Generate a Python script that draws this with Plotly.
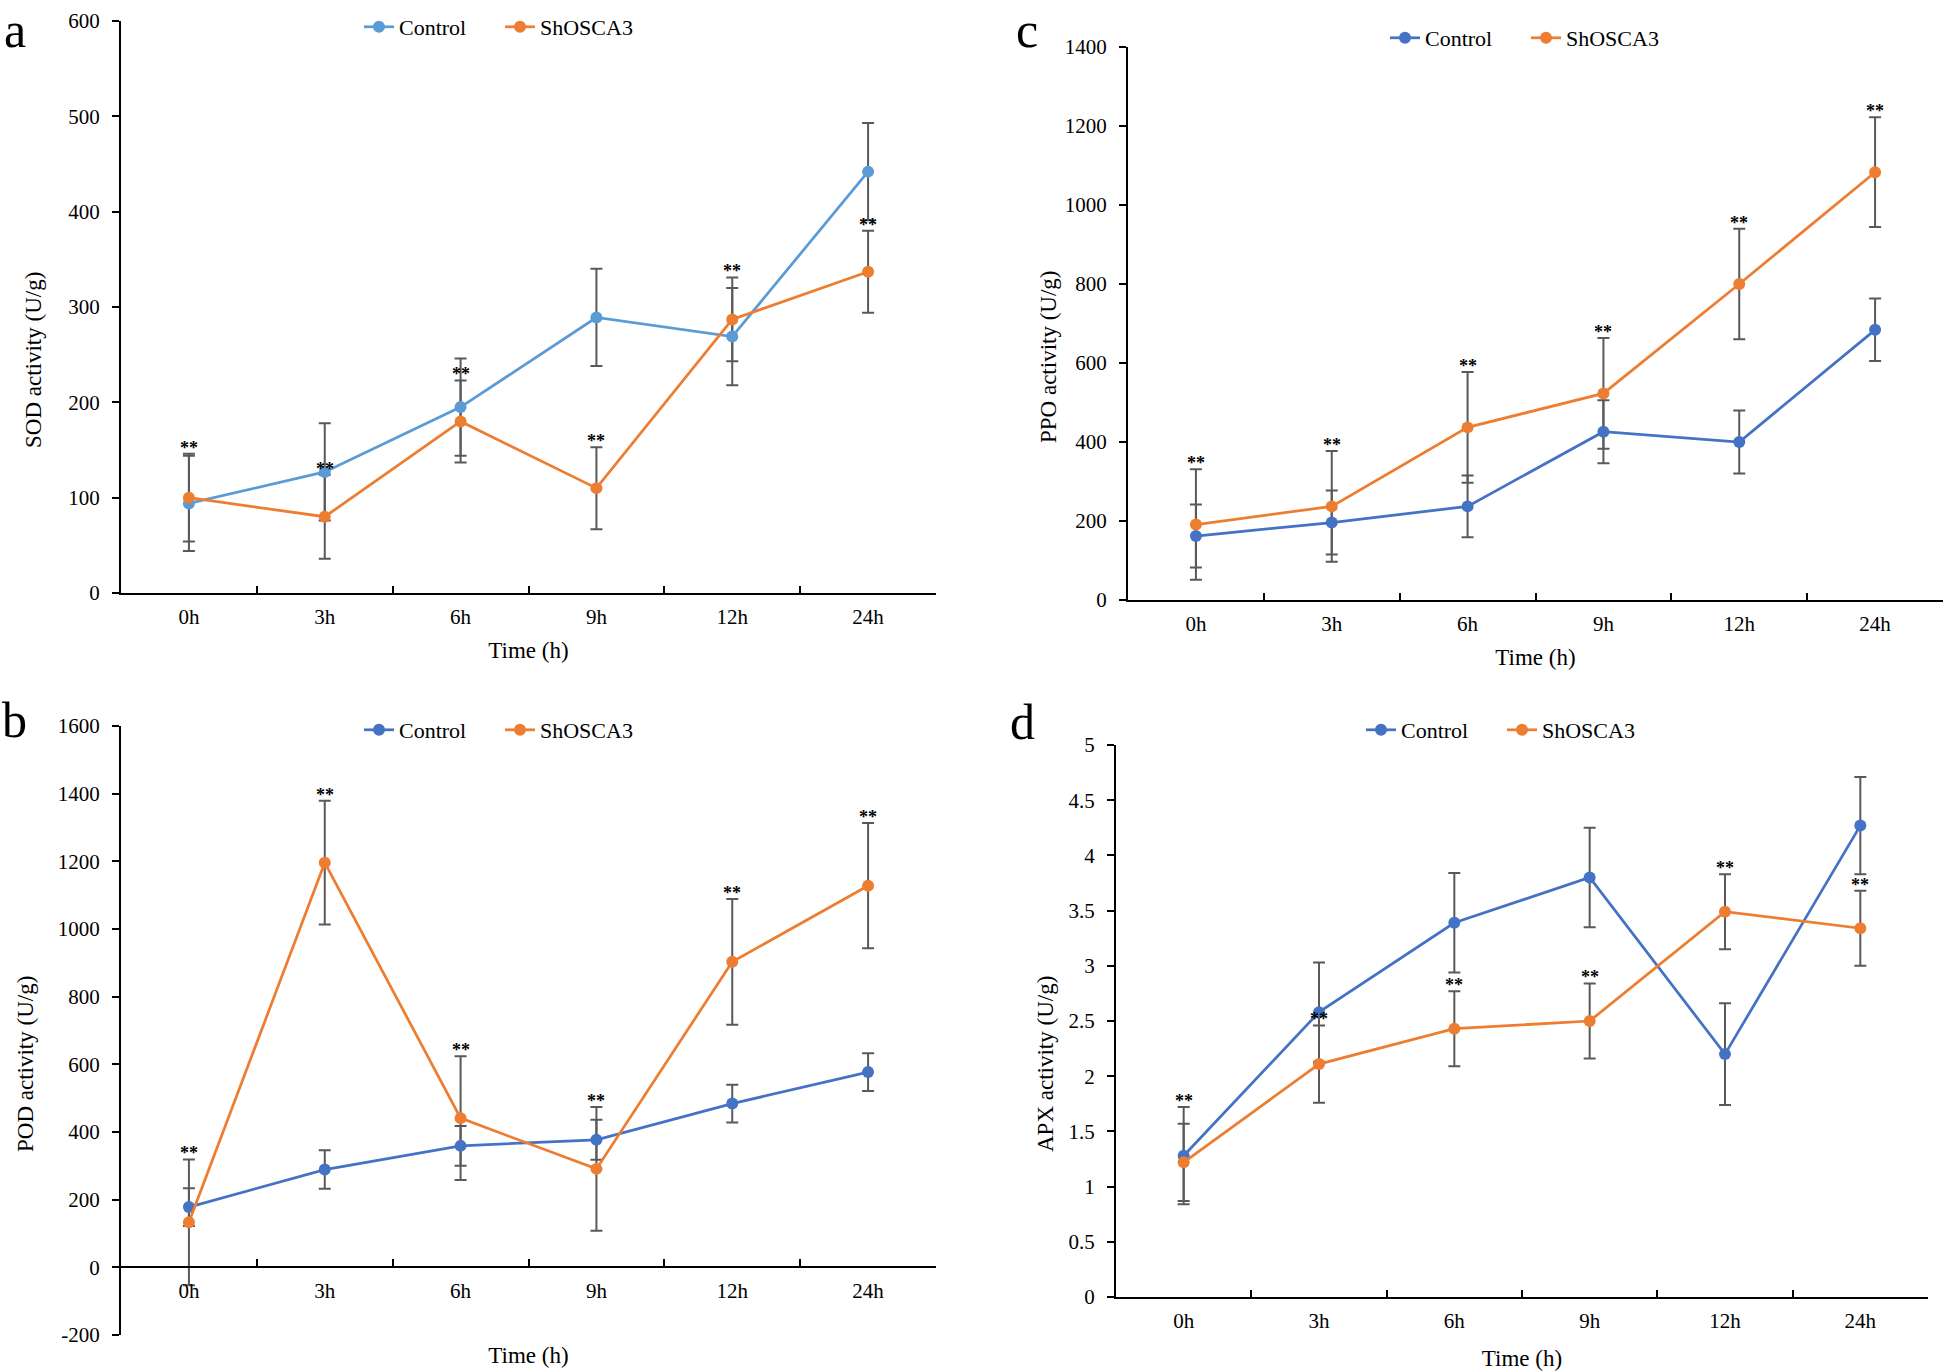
import plotly.graph_objects as go

# ---------------- data ----------------
times = ["0h", "3h", "6h", "9h", "12h", "24h"]

sod_control = [94, 127, 195, 289, 269, 442]
sod_control_err = [50, 51, 51, 51, 51, 51]
sod_sh = [100, 80, 180, 110, 287, 337]
sod_sh_err = [46, 44, 43, 43, 44, 43]

pod_control = [178, 289, 359, 377, 484, 577]
pod_control_err = [56, 57, 59, 59, 56, 56]
pod_sh = [133, 1196, 441, 291, 903, 1128]
pod_sh_err = [186, 183, 183, 183, 186, 185]

ppo_control = [162, 196, 237, 426, 400, 684]
ppo_control_err = [80, 81, 78, 80, 80, 79]
ppo_sh = [191, 237, 437, 523, 800, 1083]
ppo_sh_err = [140, 140, 140, 140, 140, 139]

apx_control = [1.28, 2.58, 3.39, 3.80, 2.20, 4.27]
apx_control_err = [0.44, 0.45, 0.45, 0.45, 0.46, 0.44]
apx_sh = [1.22, 2.11, 2.43, 2.50, 3.49, 3.34]
apx_sh_err = [0.35, 0.35, 0.34, 0.34, 0.34, 0.34]

# which series' error-bar top carries the "**" mark
sod_star_on = ["sh", "sh", "sh", "sh", "sh", "sh"]
pod_star_on = ["sh", "sh", "sh", "sh", "sh", "sh"]
ppo_star_on = ["sh", "sh", "sh", "sh", "sh", "sh"]
apx_star_on = ["control", "sh", "sh", "sh", "sh", "sh"]

pod_ticks = [-200, 0, 200, 400, 600, 800, 1000, 1200, 1400, 1600]
pod_ticktext = ["-200", "0", "200", "400", "600", "800", "1000", "1200", "1400", "1600"]

# ---------------- style ----------------
FONT = "Liberation Serif, Times New Roman, serif"
ORANGE = "#ED7D31"
BLUE = "#4472C4"
LIGHTBLUE = "#5B9BD5"
ERRC = "#595959"
W, H = 1951, 1372


def px_x(p):
    """window pixel x -> paper fraction"""
    return p / W


def px_y(p):
    """window pixel y -> paper fraction"""
    return 1 - p / H


panels = [
    dict(suffix="", legend="legend", ctrl=sod_control, ctrl_err=sod_control_err,
         sh=sod_sh, sh_err=sod_sh_err, star_on=sod_star_on,
         yrange=[0, 600], dtick=100, title="SOD activity (U/g)",
         xdom=(121, 936), ydom=(21, 593), ccolor=LIGHTBLUE, letter="a",
         letter_pos=(2, 0), legend_pos=(359, 27), ytitle_pos=(34, 360), xstandoff=14),
    dict(suffix="2", legend="legend3", ctrl=pod_control, ctrl_err=pod_control_err,
         sh=pod_sh, sh_err=pod_sh_err, star_on=pod_star_on,
         yrange=[-200, 1600], dtick=200, title="POD activity (U/g)",
         xdom=(121, 936), ydom=(726, 1335), ccolor=BLUE, letter="b",
         letter_pos=(0, 690), legend_pos=(359, 730), ytitle_pos=(25, 1064), xstandoff=44),
    dict(suffix="3", legend="legend2", ctrl=ppo_control, ctrl_err=ppo_control_err,
         sh=ppo_sh, sh_err=ppo_sh_err, star_on=ppo_star_on,
         yrange=[0, 1400], dtick=200, title="PPO activity (U/g)",
         xdom=(1128, 1943), ydom=(47, 600), ccolor=BLUE, letter="c",
         letter_pos=(1014, 0), legend_pos=(1385, 38), ytitle_pos=(1048, 357), xstandoff=14),
    dict(suffix="4", legend="legend4", ctrl=apx_control, ctrl_err=apx_control_err,
         sh=apx_sh, sh_err=apx_sh_err, star_on=apx_star_on,
         yrange=[0, 5], dtick=0.5, title="APX activity (U/g)",
         xdom=(1116, 1928), ydom=(745, 1297), ccolor=BLUE, letter="d",
         letter_pos=(1008, 692), legend_pos=(1361, 730), ytitle_pos=(1045, 1064), xstandoff=18),
]

fig = go.Figure()
layout = dict(
    template="none",
    width=W, height=H,
    margin=dict(l=0, r=0, t=0, b=0, autoexpand=False),
    paper_bgcolor="white", plot_bgcolor="white",
    font=dict(family=FONT, size=21, color="black"),
    showlegend=True, hovermode="closest",
)
annotations = []

for p in panels:
    s = p["suffix"]
    xa, ya = "x" + s, "y" + s
    series = [
        ("Control", p["ctrl"], p["ctrl_err"], p["ccolor"]),
        ("ShOSCA3", p["sh"], p["sh_err"], ORANGE),
    ]
    # error bars first (drawn beneath lines and markers)
    for name, vals, errs, color in series:
        fig.add_trace(go.Scatter(
            x=times, y=vals, name=name + " SD", mode="markers",
            xaxis=xa, yaxis=ya, showlegend=False, hoverinfo="skip",
            marker=dict(color=color, size=1, opacity=0),
            error_y=dict(type="data", array=errs, visible=True,
                         color=ERRC, thickness=2, width=6),
            cliponaxis=False,
        ))
    for name, vals, errs, color in series:
        fig.add_trace(go.Scatter(
            x=times, y=vals, name=name, mode="lines+markers",
            xaxis=xa, yaxis=ya, legend=p["legend"],
            line=dict(color=color, width=2.75),
            marker=dict(color=color, size=12),
            cliponaxis=False,
        ))

    # axes
    x0, x1 = p["xdom"]
    y0, y1 = p["ydom"]
    ydomain = [px_y(y1), px_y(y0)]
    xaxis = dict(
        domain=[px_x(x0), px_x(x1)], anchor=ya, type="category",
        categoryorder="array", categoryarray=times, range=[-0.5, 5.5],
        tickson="boundaries", ticks="inside", ticklen=7, tickwidth=2,
        tickcolor="black", showline=True, linecolor="black", linewidth=2,
        showgrid=False, zeroline=False, ticklabelstandoff=4, automargin=False,
        tickfont=dict(family=FONT, size=21, color="black"),
        title=dict(text="Time (h)", font=dict(family=FONT, size=23, color="black"),
                   standoff=p["xstandoff"]),
    )
    if p["yrange"][0] < 0:
        # x axis crosses at y = 0
        frac = (0 - p["yrange"][0]) / (p["yrange"][1] - p["yrange"][0])
        xaxis["anchor"] = "free"
        xaxis["position"] = ydomain[0] + frac * (ydomain[1] - ydomain[0])
    yaxis = dict(
        domain=ydomain, anchor=xa, range=p["yrange"], dtick=p["dtick"],
        ticks="outside", ticklen=7, tickwidth=2, tickcolor="black",
        showline=True, linecolor="black", linewidth=2, showgrid=False,
        zeroline=False, ticklabelstandoff=8, automargin=False,
        tickfont=dict(family=FONT, size=21, color="black"),
    )
    if p["yrange"][0] < 0:
        yaxis["tickmode"] = "array"
        yaxis["tickvals"] = pod_ticks
        yaxis["ticktext"] = pod_ticktext
    layout["xaxis" + s] = xaxis
    layout["yaxis" + s] = yaxis

    # y-axis title (placed like the original, below the axis centre)
    tx, ty = p["ytitle_pos"]
    annotations.append(dict(
        x=px_x(tx), y=px_y(ty), xref="paper", yref="paper", text=p["title"],
        textangle=-90, showarrow=False, xanchor="center", yanchor="middle",
        font=dict(family=FONT, size=23, color="black"),
    ))

    # legend
    lx, ly = p["legend_pos"]
    layout[p["legend"]] = dict(
        orientation="h", x=px_x(lx), y=px_y(ly), xanchor="left", yanchor="middle",
        xref="paper", yref="paper", bgcolor="rgba(0,0,0,0)", borderwidth=0,
        font=dict(family=FONT, size=22, color="black"),
        entrywidth=96, entrywidthmode="pixels", itemclick=False,
    )

    # significance marks
    for i, t in enumerate(times):
        if p["star_on"][i] == "control":
            top = p["ctrl"][i] + p["ctrl_err"][i]
        else:
            top = p["sh"][i] + p["sh_err"][i]
        annotations.append(dict(
            x=t, y=top, xref=xa, yref=ya, text="<b>**</b>", showarrow=False,
            xanchor="center", yanchor="bottom", yshift=-6,
            font=dict(family=FONT, size=18, color="black"),
        ))

    # panel letter
    lpx, lpy = p["letter_pos"]
    annotations.append(dict(
        x=px_x(lpx), y=px_y(lpy), xref="paper", yref="paper", text=p["letter"],
        showarrow=False, xanchor="left", yanchor="top",
        font=dict(family=FONT, size=50, color="black"),
    ))

layout["annotations"] = annotations
fig.update_layout(**layout)
# remove the default page margin so the figure fills the window exactly
fig.write_html(
    "out.html",
    config={"displayModeBar": False},
    post_script="document.body.style.margin='0';document.body.style.overflow='hidden';",
)
